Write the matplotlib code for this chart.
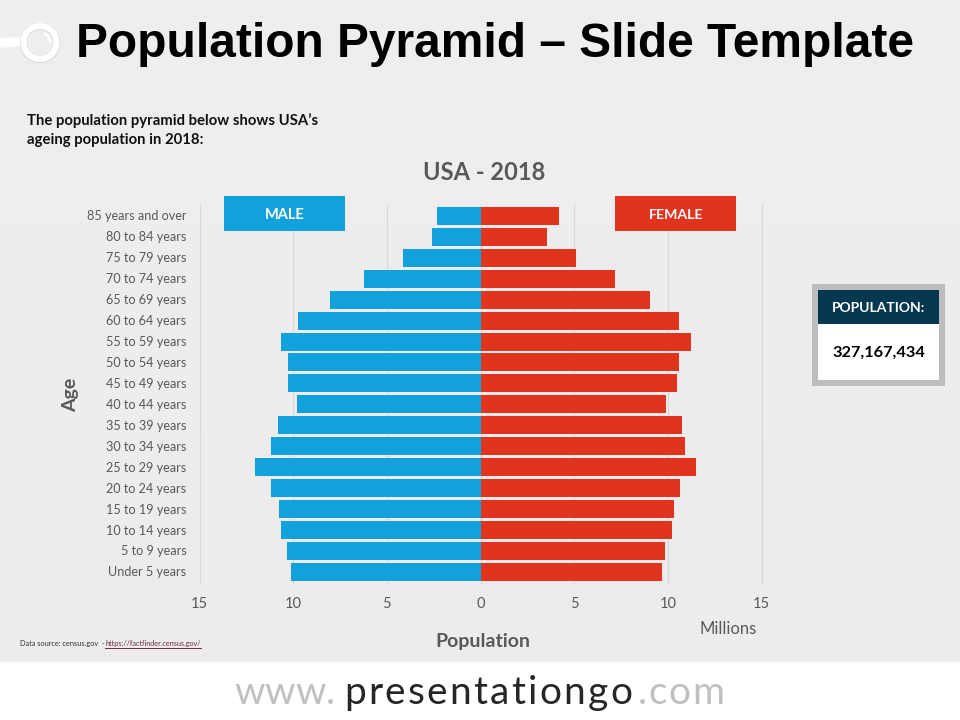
import numpy as np
import matplotlib
matplotlib.use("Agg")
import matplotlib.pyplot as plt
from matplotlib.patches import Rectangle, Circle, Polygon, Arc
from matplotlib.transforms import ScaledTranslation

ages = ["Under 5 years", "5 to 9 years", "10 to 14 years", "15 to 19 years", "20 to 24 years",
        "25 to 29 years", "30 to 34 years", "35 to 39 years", "40 to 44 years", "45 to 49 years",
        "50 to 54 years", "55 to 59 years", "60 to 64 years", "65 to 69 years", "70 to 74 years",
        "75 to 79 years", "80 to 84 years", "85 years and over"]
male = [10.12, 10.33, 10.65, 10.76, 11.19, 12.04, 11.19, 10.81, 9.80, 10.28,
        10.28, 10.65, 9.74, 8.04, 6.22, 4.14, 2.59, 2.32]
female = [9.69, 9.85, 10.22, 10.33, 10.65, 11.50, 10.92, 10.76, 9.90, 10.49,
          10.60, 11.24, 10.60, 9.05, 7.18, 5.10, 3.55, 4.19]
xticks = [-15, -10, -5, 0, 5, 10, 15]
xticklabels = ["15", "10", "5", "0", "5", "10", "15"]

BLUE, RED, GREY = "#12A1DB", "#E0341E", "#595959"
W, H = 960, 720
fig = plt.figure(figsize=(9.6, 7.2), dpi=100, facecolor="white")
plt.rcParams["font.family"] = ["Lato", "DejaVu Sans"]

# Page overlay in pixel coordinates
bg = fig.add_axes([0, 0, 1, 1], zorder=0)
bg.set_xlim(0, W); bg.set_ylim(H, 0); bg.axis("off")
grad = np.linspace(0, 1, 100)[:, None]
top, bot = np.array([240, 238, 239]) / 255, np.array([237, 235, 236]) / 255
img = top + (bot - top) * grad[..., None]
bg.imshow(img, extent=(0, W, 662, 0), aspect="auto", zorder=0)
bg.set_xlim(0, W); bg.set_ylim(H, 0)

# Magnifier icon
bg.add_patch(Polygon([(0, 38), (24, 37), (24, 46), (0, 48)], fc="white", ec="none", zorder=2))
bg.add_patch(Circle((40, 43), 16.5, fc="none", ec="#D8D6D8", lw=5.2, zorder=2.5))
bg.add_patch(Circle((40, 42.5), 16.5, fc="none", ec="white", lw=4.4, zorder=3))
bg.add_patch(Arc((40, 43), 21, 21, theta1=-65, theta2=0, ec="white", lw=2.0, zorder=3))

bg.text(76, 44.5, "Population Pyramid – Slide Template", fontsize=34.5, fontweight="bold",
        family="Liberation Sans", color="black", va="center", ha="left")
bg.text(27, 120.5, "The population pyramid below shows USA’s", fontsize=10.7, fontweight="bold",
        color="#111111", va="center", ha="left")
bg.text(27, 140, "ageing population in 2018:", fontsize=10.7, fontweight="bold",
        color="#111111", va="center", ha="left")
bg.text(484.5, 173, "USA - 2018", fontsize=17, fontweight="bold", color=GREY, va="center", ha="center")
bg.text(71, 395, "Age", fontsize=14, fontweight="bold", color=GREY, va="center", ha="center", rotation=90)
bg.text(482.5, 641.5, "Population", fontsize=14, fontweight="bold", color=GREY, va="center", ha="center")
bg.text(728.5, 629, "Millions", fontsize=12, color=GREY, va="center", ha="center")

bg.text(20, 643.5, "Data source: census.gov  -", fontsize=5.3, color="#333333", va="center", ha="left")
bg.text(105, 643.5, "https://factfinder.census.gov/", fontsize=5.2, color="#6B2C3E", va="center", ha="left")
bg.plot([105, 201], [647.5, 647.5], color="#6B2C3E", lw=0.7)


def spaced(text, x0, x1, baseline, size, color):
    """Draw text letter-spaced so it spans x0..x1 pixels."""
    r = fig.canvas.get_renderer()
    prop = matplotlib.font_manager.FontProperties(family="Lato", size=size)
    adv = lambda s: r.get_text_width_height_descent(s, prop, False)[0]
    gap = (x1 - x0 - adv(text)) / max(len(text) - 1, 1)
    for i, ch in enumerate(text):
        bg.text(x0 + adv(text[:i]) + gap * i, baseline, ch, fontproperties=prop,
                color=color, va="baseline", ha="left")


spaced("www.", 234, 335, 704, 28, "#C0C0C0")
spaced("presentationgo", 344, 632, 704, 28, "#262626")
spaced(".com", 638, 724, 704, 28, "#C0C0C0")

# Population box
bg.add_patch(Rectangle((812, 284), 133, 102, fc="#BDBDBD", ec="none"))
bg.add_patch(Rectangle((818, 290), 121, 90, fc="white", ec="none"))
bg.add_patch(Rectangle((818, 290), 121, 34, fc="#063750", ec="none"))
bg.text(878.5, 307.5, "POPULATION:", fontsize=10, fontweight="bold", color="white", va="center", ha="center")
bg.text(878.5, 353, "327,167,434", fontsize=11.8, fontweight="bold", color="black", va="center", ha="center")

# Chart
ax = fig.add_axes([199.5 / W, 1 - 583 / H, (761.5 - 199.5) / W, (583 - 205) / H], zorder=1)
ax.patch.set_alpha(0)
y = np.arange(len(ages))
ax.barh(y, -np.array(male), height=0.86, color=BLUE, zorder=3)
ax.barh(y, female, height=0.86, color=RED, zorder=3)
ax.set_xlim(-15, 15)
ax.set_ylim(-0.53, 17.52)
ax.set_xticks(xticks, xticklabels)
ax.set_yticks(y, ages)
ax.tick_params(axis="both", length=0)
ax.tick_params(axis="x", labelsize=10.5, labelcolor=GREY, pad=10)
ax.tick_params(axis="y", labelsize=9.1, labelcolor=GREY, pad=9.5)
ax.grid(axis="x", color="#D9D9D9", lw=0.9, zorder=1)
for gl in ax.get_xgridlines():
    gl.set_clip_on(False)
shift = ScaledTranslation(0, 0.5 / 100, fig.dpi_scale_trans)
for lab in ax.get_yticklabels():
    lab.set_transform(lab.get_transform() + shift)
for s in ax.spines.values():
    s.set_visible(False)

# Gender labels above the chart
top_ax = fig.add_axes([0, 0, 1, 1], zorder=2)
top_ax.set_xlim(0, W); top_ax.set_ylim(H, 0); top_ax.axis("off")
top_ax.add_patch(Rectangle((224, 196), 121, 35, fc=BLUE, ec="none"))
top_ax.add_patch(Rectangle((615, 196), 121, 35, fc=RED, ec="none"))
top_ax.text(284.5, 215, "MALE", fontsize=10.5, fontweight="bold", color="white", va="center", ha="center")
top_ax.text(676, 215, "FEMALE", fontsize=10.2, fontweight="bold", color="white", va="center", ha="center")

fig.savefig("out.png", dpi=100, facecolor="white")
